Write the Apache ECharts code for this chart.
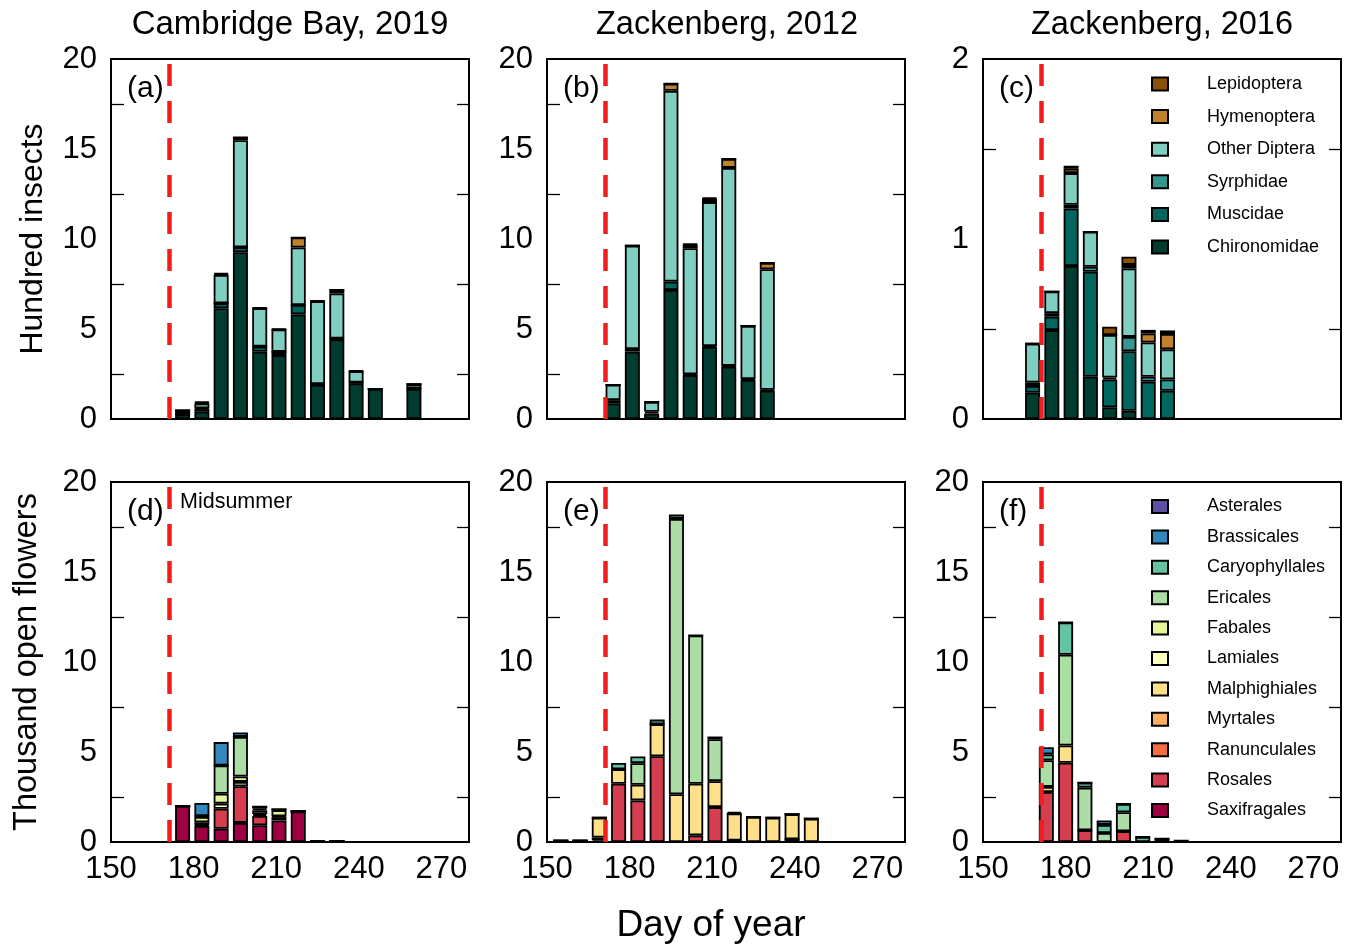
<!DOCTYPE html>
<html>
<head>
<meta charset="utf-8">
<title>Insects and flowers</title>
<script src="https://cdn.jsdelivr.net/npm/echarts@6/dist/echarts.min.js"></script>
<style>
html, body { margin: 0; padding: 0; background: #ffffff; }
#chart { width: 1352px; height: 946px; }
</style>
</head>
<body>
<div id="chart"></div>
<script>
// categories, stacked bottom to top
const insectNames = ['Chironomidae', 'Muscidae', 'Syrphidae', 'Other Diptera', 'Hymenoptera', 'Lepidoptera'];
const insectColors = ['#003c30', '#01665e', '#35978f', '#80cdc1', '#bf812d', '#8c510a'];
const flowerNames = ['Saxifragales', 'Rosales', 'Ranunculales', 'Myrtales', 'Malphighiales', 'Lamiales',
    'Fabales', 'Ericales', 'Caryophyllales', 'Brassicales', 'Asterales'];
const flowerColors = ['#9e0142', '#d53e4f', '#f46d43', '#fdae61', '#fee08b', '#ffffbf',
    '#e6f598', '#abdda4', '#66c2a5', '#3288bd', '#5e4fa2'];

// day-of-year axis runs 150..280, labelled every 30 days
const dayFirst = 150;
const dayLast = 280;
const labelStep = 30;
const midsummer = 171;

// (a) Cambridge Bay 2019, hundred insects
const daysA = [176, 183, 190, 197, 204, 211, 218, 225, 232, 239, 246, 260];
const chiroA = [0.25, 0.4, 6.15, 9.26, 3.74, 3.55, 5.81, 1.89, 4.42, 1.98, 1.67, 1.67];
const muscA = [0.03, 0.15, 0.28, 0.28, 0.28, 0.18, 0.52, 0.05, 0.05, 0.05, 0, 0.03];
const syrphA = [0, 0.05, 0, 0, 0, 0, 0, 0, 0, 0, 0, 0];
const otherA = [0.2, 0.26, 1.57, 5.95, 2.13, 1.24, 3.2, 4.6, 2.5, 0.62, 0, 0.24];
const hymenA = [0, 0.05, 0.05, 0.15, 0, 0, 0.55, 0, 0.2, 0, 0, 0];
const lepA = [0, 0.05, 0.05, 0, 0.05, 0.05, 0, 0.05, 0, 0.05, 0, 0];

// (b) Zackenberg 2012, hundred insects
const daysB = [174, 181, 188, 195, 202, 209, 216, 223, 230];
const chiroB = [0.87, 3.74, 0.3, 7.17, 2.44, 4.0, 2.9, 2.17, 1.57];
const muscB = [0.18, 0.15, 0.1, 0.46, 0.05, 0.05, 0.05, 0.05, 0.05];
const otherB = [0.85, 5.74, 0.55, 10.6, 7.0, 8.0, 11.0, 2.95, 6.7];
const hymenB = [0, 0, 0, 0.4, 0.2, 0.2, 0.5, 0, 0.35];
const lepB = [0, 0, 0, 0, 0.05, 0.05, 0, 0, 0];

// (c) Zackenberg 2016, hundred insects
const daysC = [168, 175, 182, 189, 196, 203, 210, 217];
const chiroC = [0.146, 0.494, 0.85, 0.235, 0.065, 0.046, 0, 0];
const muscC = [0.037, 0.074, 0.32, 0.583, 0.155, 0.33, 0.207, 0.157];
const syrphC = [0.02, 0.02, 0.02, 0.028, 0.01, 0.08, 0.028, 0.063];
const otherC = [0.215, 0.12, 0.176, 0.194, 0.237, 0.38, 0.19, 0.167];
const hymenC = [0, 0, 0.024, 0, 0, 0.02, 0.05, 0.085];
const lepC = [0, 0, 0.017, 0, 0.046, 0.046, 0.02, 0.02];

// (d) Cambridge Bay 2019, thousand open flowers
const daysD = [176, 183, 190, 197, 204, 211, 218, 225, 232];
const saxiD = [2.0, 0.89, 0.74, 1.06, 0.93, 1.2, 1.7, 0.05, 0.05];
const rosD = [0, 0.05, 1.11, 2.04, 0.52, 0.18, 0, 0, 0];
const lamiD = [0, 0.15, 0.28, 0.24, 0.1, 0.05, 0, 0, 0];
const fabD = [0, 0.3, 0.55, 0.3, 0.22, 0.33, 0, 0, 0];
const ericD = [0, 0.05, 1.57, 2.2, 0.08, 0.05, 0, 0, 0];
const caryoD = [0, 0, 0, 0, 0.12, 0, 0, 0, 0];
const brassD = [0, 0.73, 1.3, 0.24, 0, 0, 0, 0, 0];

// (e) Zackenberg 2012, thousand open flowers
const daysE = [155, 162, 169, 176, 183, 190, 197, 204, 211, 218, 225, 232, 239, 246];
const saxiE = [0.08, 0.08, 0.1, 0, 0, 0, 0, 0, 0, 0.08, 0, 0, 0.15, 0];
const rosE = [0, 0, 0.15, 3.24, 2.31, 4.76, 0, 0.37, 1.94, 0, 0, 0, 0, 0];
const malphE = [0, 0, 1.1, 0.8, 0.87, 1.78, 2.65, 2.87, 1.44, 1.5, 1.39, 1.35, 1.4, 1.3];
const ericE = [0, 0, 0, 0, 1.2, 0, 15.3, 8.24, 2.33, 0, 0, 0, 0, 0];
const caryoE = [0, 0, 0, 0.35, 0.37, 0.26, 0.24, 0, 0.15, 0.1, 0, 0, 0, 0];

// (f) Zackenberg 2016, thousand open flowers
const daysF = [173, 180, 187, 194, 201, 208, 215, 222];
const rosF = [2.78, 4.4, 0.65, 0, 0.6, 0, 0, 0];
const malphF = [0.28, 0.96, 0, 0, 0, 0, 0, 0];
const ericF = [1.48, 5.04, 2.37, 0.5, 1.05, 0, 0, 0];
const caryoF = [0.33, 1.8, 0.28, 0.45, 0.46, 0.28, 0.18, 0.08];
const brassF = [0.4, 0, 0, 0.25, 0, 0, 0, 0];

const panels = [
    { days: daysA, names: insectNames, colors: insectColors, max: 20, interval: 5,
      values: { Chironomidae: chiroA, Muscidae: muscA, Syrphidae: syrphA, 'Other Diptera': otherA, Hymenoptera: hymenA, Lepidoptera: lepA } },
    { days: daysB, names: insectNames, colors: insectColors, max: 20, interval: 5,
      values: { Chironomidae: chiroB, Muscidae: muscB, 'Other Diptera': otherB, Hymenoptera: hymenB, Lepidoptera: lepB } },
    { days: daysC, names: insectNames, colors: insectColors, max: 2, interval: 1,
      values: { Chironomidae: chiroC, Muscidae: muscC, Syrphidae: syrphC, 'Other Diptera': otherC, Hymenoptera: hymenC, Lepidoptera: lepC } },
    { days: daysD, names: flowerNames, colors: flowerColors, max: 20, interval: 5,
      values: { Saxifragales: saxiD, Rosales: rosD, Lamiales: lamiD, Fabales: fabD, Ericales: ericD, Caryophyllales: caryoD, Brassicales: brassD } },
    { days: daysE, names: flowerNames, colors: flowerColors, max: 20, interval: 5,
      values: { Saxifragales: saxiE, Rosales: rosE, Malphighiales: malphE, Ericales: ericE, Caryophyllales: caryoE } },
    { days: daysF, names: flowerNames, colors: flowerColors, max: 20, interval: 5,
      values: { Rosales: rosF, Malphighiales: malphF, Ericales: ericF, Caryophyllales: caryoF, Brassicales: brassF } }
];

// every day is a category so bars sit at their day of year
const dayCategories = [];
for (let d = dayFirst; d <= dayLast; d++) dayCategories.push(String(d));

const font = '"Liberation Sans", Arial, sans-serif';
const gridLeft = [111, 547, 983];
const gridTop = [59, 482];

const grids = [], xAxes = [], yAxes = [], series = [];

panels.forEach(function (p, i) {
    grids.push({
        left: gridLeft[i % 3], top: gridTop[Math.floor(i / 3)], width: 358, height: 360,
        show: true, borderColor: '#000', borderWidth: 2, backgroundColor: 'transparent'
    });
    xAxes.push({
        gridIndex: i, type: 'category', data: dayCategories, boundaryGap: false,
        axisLine: { show: false }, axisTick: { show: false }, splitLine: { show: false },
        axisLabel: { show: i >= 3, interval: labelStep - 1, fontSize: 31, color: '#000', fontFamily: font, margin: 12 }
    });
    // left axis with labels
    yAxes.push({
        gridIndex: i, type: 'value', min: 0, max: p.max, interval: p.interval, position: 'left',
        axisLine: { show: false }, splitLine: { show: false },
        axisTick: { inside: true, length: 19, lineStyle: { color: '#000', width: 1.3 } },
        minorTick: { show: true, splitNumber: 2, length: 13, lineStyle: { color: '#000', width: 1.3 } },
        axisLabel: { fontSize: 31, color: '#000', fontFamily: font, margin: 14 }
    });
    // right axis, ticks only
    yAxes.push({
        gridIndex: i, type: 'value', min: 0, max: p.max, interval: p.interval, position: 'right',
        axisLine: { show: false }, splitLine: { show: false }, axisLabel: { show: false },
        axisTick: { inside: true, length: 18, lineStyle: { color: '#000', width: 1.3 } },
        minorTick: { show: true, splitNumber: 2, length: 12, lineStyle: { color: '#000', width: 1.3 } }
    });
    p.names.forEach(function (name, k) {
        const vals = p.values[name];
        const s = {
            type: 'bar', name: name, xAxisIndex: i, yAxisIndex: 2 * i, stack: 'panel' + i,
            barWidth: 15,
            data: vals ? p.days.map(function (d, j) { return [String(d), vals[j]]; }) : [],
            itemStyle: { color: p.colors[k], borderColor: '#000', borderWidth: 1.8 },
            emphasis: { disabled: true }
        };
        if (k === p.names.length - 1) {
            s.markLine = {
                silent: true, symbol: ['none', 'none'], label: { show: false }, z: 10,
                lineStyle: { color: '#f21d1d', width: 4.5, type: [22, 15] },
                data: [{ xAxis: String(midsummer) }]
            };
        }
        series.push(s);
    });
});

const legendBase = {
    orient: 'vertical', left: 1151, padding: 0, icon: 'rect',
    itemWidth: 16, itemHeight: 13,
    itemStyle: { borderColor: '#000', borderWidth: 2 },
    textStyle: { fontSize: 18, color: '#000', fontFamily: font, padding: [0, 0, 0, 34] },
    selectedMode: false
};

function txt(text, x, y, size, align, rot) {
    return {
        type: 'text', x: x, y: y, rotation: rot || 0, silent: true,
        style: { text: text, font: size + 'px ' + font, fill: '#000',
                 textAlign: align || 'center', textVerticalAlign: 'middle' }
    };
}

const chart = echarts.init(document.getElementById('chart'));
chart.setOption({
    animation: false,
    backgroundColor: '#ffffff',
    grid: grids,
    xAxis: xAxes,
    yAxis: yAxes,
    legend: [
        Object.assign({}, legendBase, { top: 75, itemGap: 14.6, data: insectNames.slice().reverse() }),
        Object.assign({}, legendBase, { top: 497.5, itemGap: 12.4, data: flowerNames.slice().reverse() })
    ],
    graphic: [
        txt('Cambridge Bay, 2019', 290, 25, 33),
        txt('Zackenberg, 2012', 727, 25, 32.5),
        txt('Zackenberg, 2016', 1162, 25, 32.5),
        txt('(a)', 127, 89, 30, 'left'),
        txt('(b)', 563, 89, 30, 'left'),
        txt('(c)', 999, 89, 30, 'left'),
        txt('(d)', 127, 512, 30, 'left'),
        txt('(e)', 563, 512, 30, 'left'),
        txt('(f)', 999, 512, 30, 'left'),
        txt('Midsummer', 180, 502, 21.5, 'left'),
        txt('Hundred insects', 33, 239, 32, 'center', Math.PI / 2),
        txt('Thousand open flowers', 27, 662, 32.5, 'center', Math.PI / 2),
        txt('Day of year', 711, 926, 37)
    ],
    series: series
});
</script>
</body>
</html>
